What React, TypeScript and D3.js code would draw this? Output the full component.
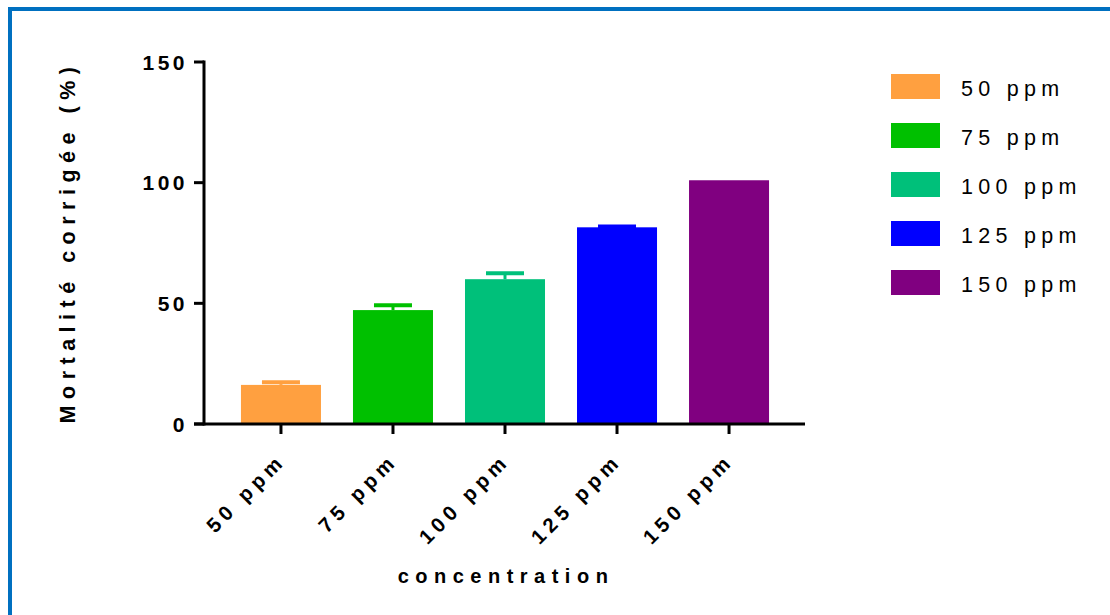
import React from "react";
import * as d3 from "d3";

const categories = ["50 ppm", "75 ppm", "100 ppm", "125 ppm", "150 ppm"];
const means = [16.2, 47.2, 60.0, 81.5, 101.0];
const errors = [1.5, 2.4, 2.9, 0.8, 0];
const colors = ["#FFA040", "#00C000", "#00C07A", "#0000FF", "#800080"];
const yTicks = [0, 50, 100, 150];
const yTitle = "Mortalité corrigée (%)";
const xTitle = "concentration";

const W = 1110;
const H = 615;
const FONT = "'Liberation Sans', Arial, sans-serif";

export default function App() {
  const y = d3.scaleLinear().domain([0, 150]).range([424, 62]);
  const x = d3
    .scaleBand<string>()
    .domain(categories)
    .range([205, 805])
    .paddingInner(0.2857)
    .paddingOuter(0.321);
  const bw = x.bandwidth();
  const capW = 38;

  return (
    <svg
      width={W}
      height={H}
      style={{ position: "absolute", left: 0, top: 0, background: "#fff" }}
      fontFamily={FONT}
    >
      {/* border */}
      <line x1={10} y1={7} x2={10} y2={H} stroke="#0070C0" strokeWidth={4} />
      <line x1={8} y1={9} x2={W} y2={9} stroke="#0070C0" strokeWidth={4} />

      {/* bars */}
      {categories.map((c, i) => {
        const x0 = x(c)!;
        const cx = x0 + bw / 2;
        const top = y(means[i]);
        const errTop = y(means[i] + errors[i]);
        return (
          <g key={c}>
            <rect x={x0} y={top} width={bw} height={y(0) - top} fill={colors[i]} />
            {errors[i] > 0 && (
              <g stroke={colors[i]} strokeWidth={3}>
                <line x1={cx} x2={cx} y1={top} y2={errTop} />
                <line x1={cx - capW / 2} x2={cx + capW / 2} y1={errTop + 1} y2={errTop + 1} strokeWidth={4} />
              </g>
            )}
          </g>
        );
      })}

      {/* y axis */}
      <line x1={204} x2={204} y1={60.5} y2={425.5} stroke="#000" strokeWidth={3} />
      {yTicks.map((t) => (
        <g key={t}>
          <line x1={194} x2={204} y1={y(t)} y2={y(t)} stroke="#000" strokeWidth={3} />
          <text
            x={188}
            y={y(t)}
            dy="0.36em"
            textAnchor="end"
            fontSize={21}
            fontWeight="bold"
            letterSpacing={3.5}
          >
            {t}
          </text>
        </g>
      ))}

      {/* x axis */}
      <line x1={194} x2={805} y1={424} y2={424} stroke="#000" strokeWidth={3} />
      {categories.map((c) => {
        const cx = x(c)! + bw / 2;
        return (
          <g key={c}>
            <line x1={cx} x2={cx} y1={424} y2={434} stroke="#000" strokeWidth={3} />
            <text
              transform={`translate(${cx + 6},${462}) rotate(-45)`}
              textAnchor="end"
              fontSize={20.5}
              fontWeight="bold"
              letterSpacing={5}
            >
              {c}
            </text>
          </g>
        );
      })}

      {/* titles */}
      <text
        transform={`translate(75,${242}) rotate(-90)`}
        textAnchor="middle"
        fontSize={21.5}
        fontWeight="bold"
        letterSpacing={6.5}
      >
        {yTitle}
      </text>
      <text
        x={506}
        y={583}
        textAnchor="middle"
        fontSize={20}
        fontWeight="bold"
        letterSpacing={6.5}
      >
        {xTitle}
      </text>

      {/* legend */}
      {categories.map((c, i) => (
        <g key={c}>
          <rect x={891} y={74 + i * 49} width={49} height={25} fill={colors[i]} />
          <text x={961} y={74 + i * 49 + 22} fontSize={21.5} letterSpacing={5.3}>
            {c}
          </text>
        </g>
      ))}
    </svg>
  );
}
